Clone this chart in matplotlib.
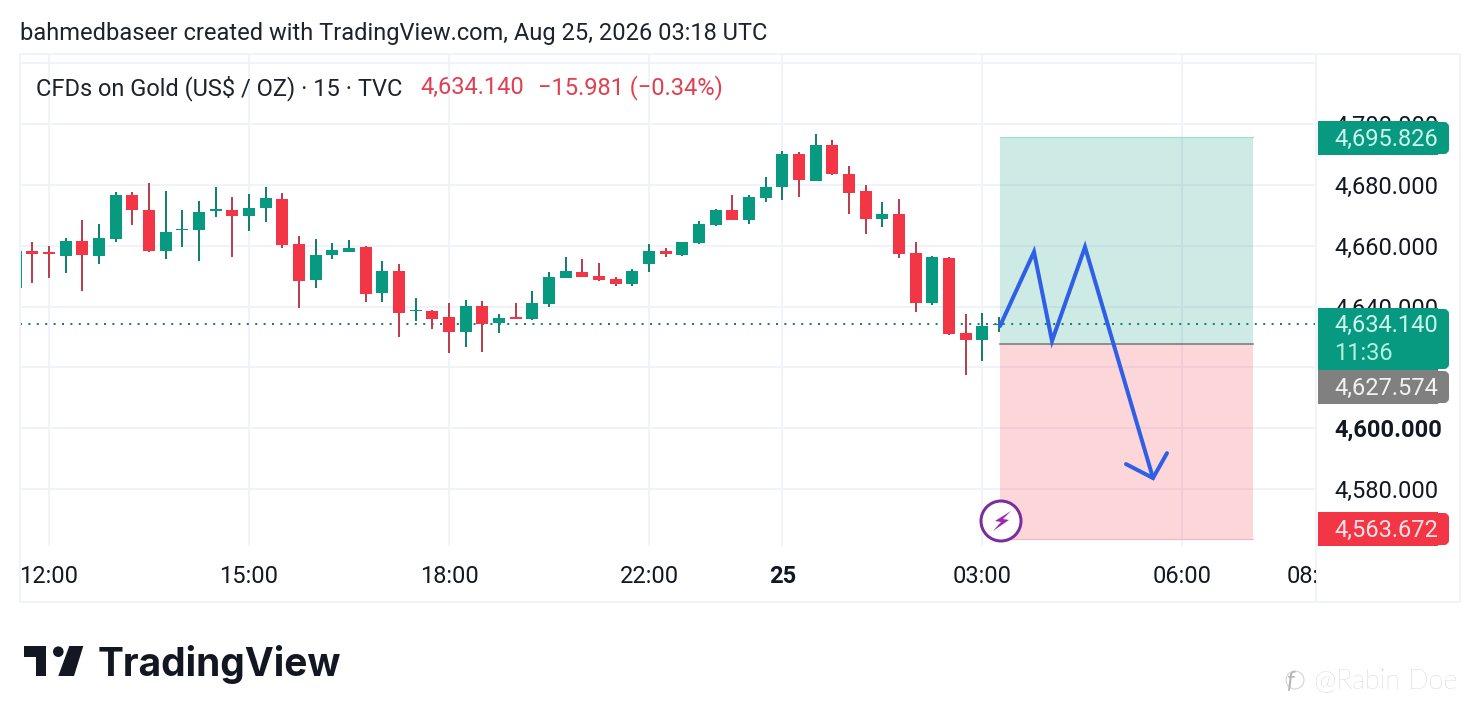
import matplotlib
matplotlib.use("Agg")
import matplotlib.pyplot as plt
from matplotlib.patches import Rectangle, Polygon, Circle, FancyBboxPatch
from matplotlib.transforms import Bbox

plt.rcParams['font.family'] = ['Roboto', 'DejaVu Sans']

# ---------- data ----------
first_bar = -2
highs = [4658.4,4661.3,4659.9,4662.6,4668.5,4667.2,4677.7,4677.7,4680.7,4678.0,4671.8,4674.7,4679.3,4676.1,4677.0,4679.3,4677.4,4663.2,4662.2,4660.9,
         4661.9,4659.9,4655.0,4654.0,4642.8,4638.9,4641.2,4642.2,4641.8,4637.6,4641.2,4645.1,4651.4,4656.3,4655.7,4654.3,4649.7,4652.4,4660.6,4659.3,
         4661.2,4668.2,4672.1,4676.7,4676.7,4682.6,4691.2,4690.9,4696.8,4694.8,4686.3,4680.0,4674.4,4675.4,4661.2,4656.6,4656.3,4637.6,4637.9,4636.6]
lows = [4646.1,4647.9,4649.5,4651.2,4645.2,4654.1,4661.2,4666.8,4658.1,4655.7,4659.6,4655.0,4669.5,4656.3,4664.9,4667.8,4659.3,4639.5,4646.1,4655.7,
        4658.0,4641.5,4641.5,4630.0,4635.3,4632.6,4624.7,4626.7,4625.1,4631.3,4635.8,4635.6,4639.9,4649.4,4649.7,4648.4,4646.8,4646.8,4651.4,4656.3,
        4656.6,4660.6,4666.5,4668.5,4667.2,4674.4,4675.1,4676.1,4681.3,4683.3,4670.5,4663.9,4666.2,4656.0,4638.2,4640.5,4630.7,4617.5,4622.1,4631.6]
opens = [4646.1,4658.4,4658.1,4656.7,4661.6,4656.7,4662.2,4676.7,4671.8,4658.4,4665.1,4665.3,4671.5,4671.8,4669.8,4672.4,4675.4,4660.6,4648.8,4657.0,
         4658.0,4659.6,4644.5,4651.7,4638.5,4638.6,4636.6,4631.6,4640.2,4634.6,4636.6,4635.9,4640.9,4649.4,4651.4,4650.1,4649.1,4647.4,4654.0,4658.3,
         4657.0,4660.9,4666.8,4671.8,4668.5,4675.7,4679.3,4690.2,4681.3,4693.2,4683.6,4678.0,4668.8,4670.5,4657.6,4641.2,4656.0,4631.3,4629.0,4633.8]
closes = [4658.4,4657.3,4657.3,4661.6,4657.0,4662.6,4676.7,4671.8,4658.4,4664.5,4665.4,4671.1,4672.1,4669.8,4672.4,4675.7,4660.3,4648.4,4657.0,4658.6,
          4659.3,4644.1,4651.7,4637.9,4638.9,4635.9,4631.6,4640.2,4634.3,4636.2,4635.9,4641.2,4649.7,4651.7,4649.7,4648.8,4647.4,4651.7,4658.3,4657.3,
          4661.2,4667.2,4671.8,4668.5,4676.1,4679.3,4690.2,4681.6,4693.2,4683.6,4677.4,4668.8,4670.5,4657.3,4641.2,4656.3,4630.9,4629.0,4633.6,4634.3]

time_ticks = [0, 12, 24, 36, 44, 56, 68, 76]
time_labels = ['12:00', '15:00', '18:00', '22:00', '25', '03:00', '06:00', '08:00']
price_ticks = [4700, 4680, 4660, 4640, 4600, 4580]
price_labels = ['4,700.000', '4,680.000', '4,660.000', '4,640.000', '4,600.000', '4,580.000']
grid_prices = [4720, 4700, 4680, 4660, 4640, 4620, 4600, 4580]

last_price = 4634.140
take_profit = 4695.826
entry = 4627.574
stop_loss = 4563.672
position_start, position_end = 57.06, 72.24

path_x = [57.06, 59.1, 60.18, 62.16, 66.24]
path_y = [4633.6, 4658.0, 4628.7, 4659.6, 4583.6]
head_x = [64.62, 66.24, 67.08]
head_y = [4588.2, 4583.6, 4591.8]

# ---------- layout ----------
W, H = 1480, 722
fig = plt.figure(figsize=(W / 100, H / 100), dpi=100, facecolor='white')
px = 0.72  # points per pixel at 100 dpi
GREEN, RED = '#089981', '#f23645'
GREEN_WICK, RED_WICK = '#16806f', '#b9414f'
GRID = '#f0f3fa'
L, R, T, B = 20, 1316, 54, 546

ax = fig.add_axes([L / W, 1 - B / H, (R - L) / W, (B - T) / H])
ax.set_xlim(-1.74, 76.02)
ax.set_ylim(4561.25, 4723.1)
ax.axis('off')

for p in grid_prices:
    ax.axhline(p, color=GRID, lw=2 * px, zorder=0)
for t in time_ticks[:-1]:
    ax.axvline(t, color=GRID, lw=2 * px, zorder=0)

# position tool
ax.add_patch(Rectangle((position_start, entry), position_end - position_start, take_profit - entry,
                       fc='#089981', alpha=0.20, ec='none', zorder=1))
ax.add_patch(Rectangle((position_start, stop_loss), position_end - position_start, entry - stop_loss,
                       fc='#f23645', alpha=0.20, ec='none', zorder=1))
ax.plot([position_start, position_end], [take_profit] * 2, color='#a5dacf', lw=1.2 * px, zorder=2)
ax.plot([position_start, position_end], [stop_loss] * 2, color='#eeb9c0', lw=1.2 * px, zorder=2)
ax.plot([position_start, position_end], [entry] * 2, color='#7a7a7a', lw=1.6 * px, zorder=2)

# last price line
ax.axhline(last_price, color='#16806f', lw=2 * px, dashes=(1, 3.2), zorder=2)

# candles
bars = [first_bar + i for i in range(len(opens))]
up = [c >= o for o, c in zip(opens, closes)]
ax.vlines(bars, lows, highs, colors=[GREEN_WICK if u else RED_WICK for u in up], lw=2 * px, zorder=3)
ax.bar(bars, [max(abs(c - o), 0.5) for o, c in zip(opens, closes)], bottom=[min(o, c) for o, c in zip(opens, closes)],
       width=0.72, color=[GREEN if u else RED for u in up], lw=0, zorder=4)

# drawn path
ax.plot(path_x, path_y, color='#2f5fe6', lw=4 * px, solid_joinstyle='miter', solid_capstyle='round', zorder=6)
ax.plot(head_x, head_y, color='#2f5fe6', lw=4 * px, solid_joinstyle='miter', solid_capstyle='round', zorder=6)

# ---------- overlay in pixels ----------
ov = fig.add_axes([0, 0, 1, 1], facecolor='none')
ov.set_xlim(0, W)
ov.set_ylim(H, 0)
ov.axis('off')
ov.add_patch(Rectangle((L, T), 1460 - L, 602 - T, fc='none', ec=GRID, lw=2 * px, zorder=0))
ov.plot([R, R], [T, 602], color=GRID, lw=2 * px, zorder=0)

FS = 17
ov.text(20, 31, 'bahmedbaseer created with TradingView.com, Aug 25, 2026 03:18 UTC',
        fontsize=FS, color='#1e222d', va='center_baseline', ha='left')
ov.text(36, 85, 'CFDs on Gold (US$ / OZ) · 15 · TVC', fontsize=FS, color='#1e222d', va='center_baseline')
ov.text(420, 85, '4,634.140', fontsize=FS, color='#e0404f', va='center_baseline')
ov.text(538, 85, '−15.981 (−0.34%)', fontsize=FS, color='#e0404f', va='center_baseline')

# price scale labels (y position follows the price scale)
to_y = lambda p: ax.transData.transform((0, p))[1]
for p, lab in zip(price_ticks, price_labels):
    ypx = H - to_y(p)
    ov.text(1334, ypx, lab, fontsize=FS, color='#131722', va='center_baseline',
            fontweight='bold' if p == 4600 else 'normal', zorder=2)

# time scale labels, the last one clipped by the pane
for t, lab in zip(time_ticks, time_labels):
    xpx = ax.transData.transform((t, 0))[0]
    txt = ov.text(xpx, 574, lab, fontsize=FS, color='#131722', ha='center', va='center_baseline',
                  fontweight='bold' if lab == '25' else 'normal', zorder=2)
    if lab == '08:00':
        txt.set_clip_box(Bbox([[L, 0], [R, H]]))
        txt.set_clip_on(True)

def tag(y0, y1, color, lines):
    ov.add_patch(Rectangle((1318, y0), 120, y1 - y0, fc=color, ec='none', zorder=5))
    ov.add_patch(FancyBboxPatch((1420, y0 + 3), 27, y1 - y0 - 6, boxstyle='round,pad=0,rounding_size=3',
                                mutation_aspect=1, fc=color, ec=color, lw=4 * px, zorder=5))
    for y, s, c in lines:
        ov.text(1334, y, s, fontsize=FS, color=c, va='center_baseline', zorder=6)

tag(121, 155, GREEN, [(136.5, '4,695.826', '#ccf5ec')])
tag(308, 370, GREEN, [(323, '4,634.140', '#ccf5ec'), (351, '11:36', '#b5f0e2')])
tag(370, 404, '#808080', [(386, '4,627.574', '#f2f2f2')])
tag(512, 546, RED, [(527.5, '4,563.672', '#fde3e6')])

# alert badge
ov.add_patch(Circle((1001, 521), 20, fc='white', ec='#7b2d9b', lw=3 * px, zorder=7))
ov.add_patch(Polygon([(1011, 511), (995, 521), (1001, 522), (993, 531), (1009, 520), (1003, 519)],
                     fc='#9c27b0', ec='none', zorder=8))

# TradingView logo
ov.add_patch(Polygon([(24, 646), (45.7, 646), (45.7, 676), (35.7, 676), (35.7, 657.3), (24, 657.3)], fc='#131722', ec='none'))
ov.add_patch(Circle((58.3, 651.7), 5.3, fc='#131722', ec='none'))
ov.add_patch(Polygon([(69.3, 646), (83.3, 646), (74, 676), (58.3, 676)], fc='#131722', ec='none'))
ov.text(98, 676, 'TradingView', fontsize=28, fontweight='bold', family='Inter', color='#131722', va='baseline')

# watermark
ov.text(1314, 688, '@Rabin Doe', fontsize=19.5, fontweight='light', family='Lato', color='#bdbdbd', va='baseline')
ov.text(1286, 688, 'f', fontsize=17, style='italic', family='Lato', color='#b5b5b5', va='baseline')
ov.add_patch(Circle((1295, 680), 9, fc='none', ec='#d0d0d0', lw=1 * px))

fig.savefig('out.png', dpi=100, facecolor='white')
